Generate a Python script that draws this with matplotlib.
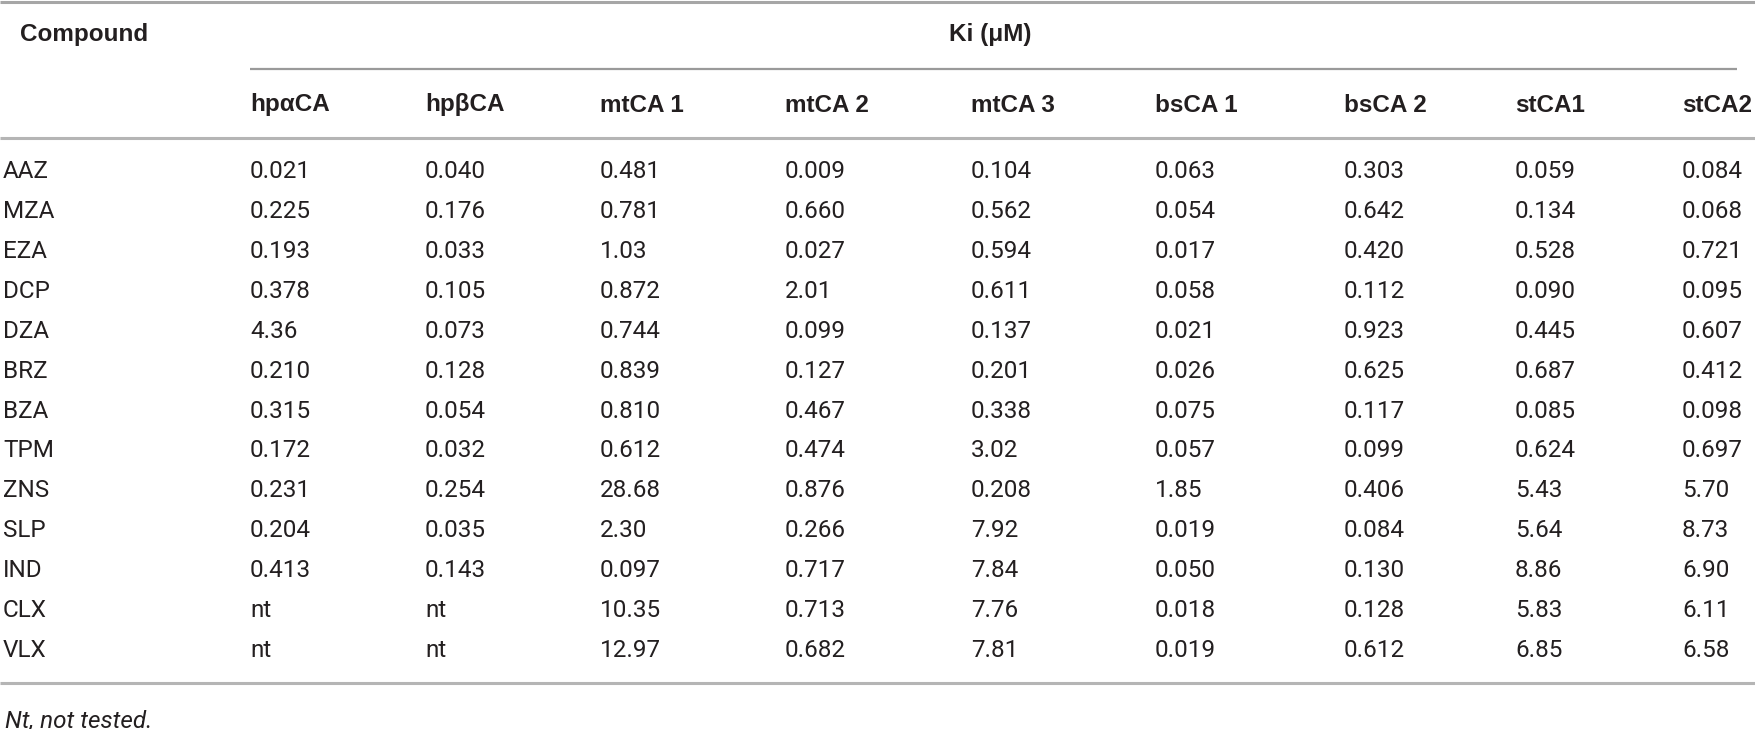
import matplotlib
matplotlib.use('Agg')
import matplotlib.pyplot as plt
from matplotlib.lines import Line2D

# table content
compounds = ['AAZ', 'MZA', 'EZA', 'DCP', 'DZA', 'BRZ', 'BZA', 'TPM', 'ZNS', 'SLP', 'IND', 'CLX', 'VLX']
columns = ['hpαCA', 'hpβCA', 'mtCA 1', 'mtCA 2', 'mtCA 3', 'bsCA 1', 'bsCA 2', 'stCA1', 'stCA2']
hpaCA = ['0.021', '0.225', '0.193', '0.378', '4.36', '0.210', '0.315', '0.172', '0.231', '0.204', '0.413', 'nt', 'nt']
hpbCA = ['0.040', '0.176', '0.033', '0.105', '0.073', '0.128', '0.054', '0.032', '0.254', '0.035', '0.143', 'nt', 'nt']
mtCA1 = ['0.481', '0.781', '1.03', '0.872', '0.744', '0.839', '0.810', '0.612', '28.68', '2.30', '0.097', '10.35', '12.97']
mtCA2 = ['0.009', '0.660', '0.027', '2.01', '0.099', '0.127', '0.467', '0.474', '0.876', '0.266', '0.717', '0.713', '0.682']
mtCA3 = ['0.104', '0.562', '0.594', '0.611', '0.137', '0.201', '0.338', '3.02', '0.208', '7.92', '7.84', '7.76', '7.81']
bsCA1 = ['0.063', '0.054', '0.017', '0.058', '0.021', '0.026', '0.075', '0.057', '1.85', '0.019', '0.050', '0.018', '0.019']
bsCA2 = ['0.303', '0.642', '0.420', '0.112', '0.923', '0.625', '0.117', '0.099', '0.406', '0.084', '0.130', '0.128', '0.612']
stCA1 = ['0.059', '0.134', '0.528', '0.090', '0.445', '0.687', '0.085', '0.624', '5.43', '5.64', '8.86', '5.83', '6.85']
stCA2 = ['0.084', '0.068', '0.721', '0.095', '0.607', '0.412', '0.098', '0.697', '5.70', '8.73', '6.90', '6.11', '6.58']
values = [hpaCA, hpbCA, mtCA1, mtCA2, mtCA3, bsCA1, bsCA2, stCA1, stCA2]

W, H = 1755, 729
fig = plt.figure(figsize=(W / 100, H / 100), dpi=100)
fig.patch.set_facecolor('white')

head_fam = ['Liberation Sans', 'DejaVu Sans']
body_fam = ['Roboto', 'Liberation Sans', 'DejaVu Sans']
txt_color = '#231f20'
fs = 17.5


def px(x, y):
    return x / W, 1 - y / H


def put(x, y, s, fam=body_fam, **kw):
    # y is the visual centre of the capitals, shift to baseline
    fx, fy = px(x, y + 8.5)
    fig.text(fx, fy, s, va='baseline', ha='left', fontsize=fs, family=fam, color=txt_color, **kw)


def hline(x0, x1, y, color, lw):
    fig.add_artist(Line2D([x0 / W, x1 / W], [1 - y / H, 1 - y / H], transform=fig.transFigure,
                          color=color, linewidth=lw, solid_capstyle='butt'))


col_x = [250, 425, 600, 785, 971, 1155, 1344, 1515, 1682]
row_y0 = 170
row_dy = 39.85

hline(0, W, 1.5, '#a6a6a6', 2.2)
put(20, 32, 'Compound', fam=head_fam, fontweight='bold')
put(949, 32, 'Ki (μM)', fam=head_fam, fontweight='bold')
hline(250, 1737, 69, '#9a9a9a', 1.6)
for x, c in zip(col_x, columns):
    put(x, 103, c, fam=head_fam, fontweight='bold')
hline(0, W, 138, '#b5b5b5', 2.2)

for i, name in enumerate(compounds):
    y = row_y0 + i * row_dy
    put(3, y, name)
    for x, col in zip(col_x, values):
        put(x, y, col[i])

hline(0, W, 683, '#b5b5b5', 2.2)
put(5, 719, 'Nt, not tested.', fontstyle='italic')

plt.savefig('out.png', dpi=100, facecolor='white')
plt.close()
